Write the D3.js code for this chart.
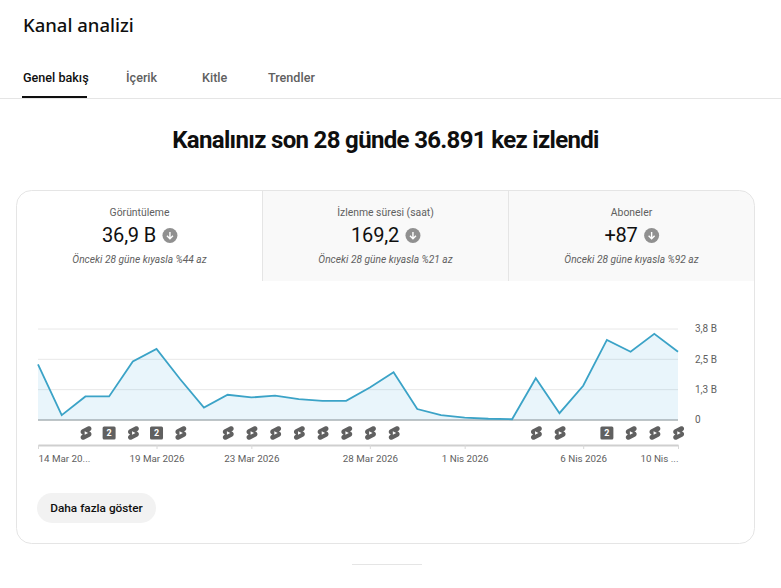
<!DOCTYPE html>
<html lang="tr">
<head>
<meta charset="utf-8">
<script src="https://cdn.jsdelivr.net/npm/d3@7"></script>
<style>
  html, body { margin: 0; padding: 0; background: #fff; }
  svg { display: block; font-family: Roboto, sans-serif; }
</style>
</head>
<body>
<div id="chart"></div>
<script>
const pageTabs = ['Genel bakış', 'İçerik', 'Kitle', 'Trendler'];
const metricTitles = ['Görüntüleme', 'İzlenme süresi (saat)', 'Aboneler'];
const metricValues = ['36,9 B', '169,2', '+87'];
const metricNotes = ['Önceki 28 güne kıyasla %44 az', 'Önceki 28 güne kıyasla %21 az', 'Önceki 28 güne kıyasla %92 az'];

const days = ['14 Mar', '15 Mar', '16 Mar', '17 Mar', '18 Mar', '19 Mar', '20 Mar', '21 Mar', '22 Mar', '23 Mar',
  '24 Mar', '25 Mar', '26 Mar', '27 Mar', '28 Mar', '29 Mar', '30 Mar', '31 Mar', '1 Nis', '2 Nis',
  '3 Nis', '4 Nis', '5 Nis', '6 Nis', '7 Nis', '8 Nis', '9 Nis', '10 Nis'];
const views = [2.27, 0.18, 0.95, 0.95, 2.39, 2.91, 1.66, 0.49, 1.02, 0.91,
  0.98, 0.84, 0.77, 0.77, 1.32, 1.95, 0.43, 0.18, 0.08, 0.03,
  0.01, 1.70, 0.26, 1.39, 3.28, 2.79, 3.53, 2.79];

const yTicks = [0, 1.25, 2.5, 3.75];
const yTickLabels = ['0', '1,3 B', '2,5 B', '3,8 B'];
const xTicks = ['14 Mar', '19 Mar', '23 Mar', '28 Mar', '1 Nis', '6 Nis', '10 Nis'];
const xTickLabels = ['14 Mar 20...', '19 Mar 2026', '23 Mar 2026', '28 Mar 2026', '1 Nis 2026', '6 Nis 2026', '10 Nis ...'];

// upload markers under the chart: day and how many videos went up
const uploadDays = ['16 Mar', '17 Mar', '18 Mar', '19 Mar', '20 Mar', '22 Mar', '23 Mar', '24 Mar', '25 Mar', '26 Mar',
  '27 Mar', '28 Mar', '29 Mar', '4 Nis', '5 Nis', '7 Nis', '8 Nis', '9 Nis', '10 Nis'];
const uploadCounts = [1, 2, 1, 2, 1, 1, 1, 1, 1, 1, 1, 1, 1, 1, 1, 2, 1, 1, 1];

const shortsPath = 'M17.77 10.32l-1.2-.5L18 9.06c1.84-.96 2.53-3.23 1.56-5.06s-3.24-2.53-5.07-1.56L6 6.94c-1.29.68-2.07 2.04-2 3.49.07 1.42.93 2.67 2.22 3.25.03.01 1.2.5 1.2.5L6 14.93c-1.83.97-2.53 3.24-1.56 5.07.97 1.83 3.24 2.53 5.07 1.56l8.5-4.5c1.29-.68 2.06-2.04 1.99-3.49-.07-1.42-.94-2.68-2.23-3.25zM10 14.65v-5.3L15 12l-5 2.65z';

const width = 781, height = 588;
const svg = d3.select('#chart').append('svg')
  .attr('width', width)
  .attr('height', height);

// page header
svg.append('text')
  .attr('x', 23).attr('y', 32)
  .attr('font-family', "'Noto Sans', sans-serif")
  .attr('font-size', 18.5)
  .attr('font-weight', 500)
  .attr('fill', '#0f0f0f')
  .text('Kanal analizi');

const tabX = [23, 126, 202, 268];
svg.selectAll('text.page-tab')
  .data(pageTabs)
  .enter().append('text')
  .attr('class', 'page-tab')
  .attr('x', (d, i) => tabX[i])
  .attr('y', 82)
  .attr('font-size', 12.6)
  .attr('font-weight', 500)
  .attr('fill', (d, i) => i === 0 ? '#0f0f0f' : '#606060')
  .text(d => d);

svg.append('rect').attr('x', 0).attr('y', 98).attr('width', width).attr('height', 1).attr('fill', '#e5e5e5');
svg.append('rect').attr('x', 22).attr('y', 96).attr('width', 65).attr('height', 2).attr('fill', '#0f0f0f');

svg.append('text')
  .attr('x', 385.5).attr('y', 148)
  .attr('text-anchor', 'middle')
  .attr('font-size', 24)
  .attr('font-weight', 700)
  .attr('letter-spacing', -0.67)
  .attr('fill', '#0f0f0f')
  .text('Kanalınız son 28 günde 36.891 kez izlendi');

// card
const card = { x: 16.5, y: 190.5, w: 738, h: 353, r: 15 };
svg.append('clipPath').attr('id', 'card-clip')
  .append('rect')
  .attr('x', card.x).attr('y', card.y)
  .attr('width', card.w).attr('height', card.h)
  .attr('rx', card.r);

const metricLeft = [16.5, 262.5, 508.5];
const metricRight = [262.5, 508.5, 754.5];
const metrics = svg.append('g');
metrics.append('g').attr('clip-path', 'url(#card-clip)')
  .selectAll('rect')
  .data(metricTitles)
  .enter().append('rect')
  .attr('x', (d, i) => metricLeft[i])
  .attr('y', card.y)
  .attr('width', (d, i) => metricRight[i] - metricLeft[i])
  .attr('height', 90.5)
  .attr('fill', (d, i) => i === 0 ? '#fff' : '#f9f9f9');

metrics.selectAll('line')
  .data([262.5, 508.5])
  .enter().append('line')
  .attr('x1', d => d).attr('x2', d => d)
  .attr('y1', card.y).attr('y2', 281)
  .attr('stroke', '#e5e5e5');

svg.append('rect')
  .attr('x', card.x).attr('y', card.y)
  .attr('width', card.w).attr('height', card.h)
  .attr('rx', card.r)
  .attr('fill', 'none')
  .attr('stroke', '#e5e5e5');

metricTitles.forEach((title, i) => {
  const cx = (metricLeft[i] + metricRight[i]) / 2;
  metrics.append('text')
    .attr('x', cx).attr('y', 216)
    .attr('text-anchor', 'middle')
    .attr('font-size', 10.4)
    .attr('fill', '#606060')
    .text(title);
  metrics.append('text')
    .attr('x', cx).attr('y', 263)
    .attr('text-anchor', 'middle')
    .attr('font-size', 10.2)
    .attr('font-style', 'italic')
    .attr('fill', '#606060')
    .text(metricNotes[i]);

  const value = metrics.append('text')
    .attr('y', 241.5)
    .attr('font-size', 20)
    .attr('letter-spacing', -0.2)
    .attr('fill', '#0f0f0f')
    .text(metricValues[i]);
  const tw = value.node().getComputedTextLength();
  const startX = cx - (tw + 21) / 2;
  value.attr('x', startX);

  // down arrow badge
  const badge = metrics.append('g')
    .attr('transform', `translate(${startX + tw + 14},235.5)`);
  badge.append('circle').attr('r', 7.5).attr('fill', '#909090');
  badge.append('path')
    .attr('d', 'M0 -3.5V3M-3 0.2L0 3.2L3 0.2')
    .attr('fill', 'none')
    .attr('stroke', '#fff')
    .attr('stroke-width', 1.4);
});

// chart
const margin = { left: 38, right: 678, top: 328.5, bottom: 419.5 };
const x = d3.scalePoint().domain(days).range([margin.left, margin.right]);
const y = d3.scaleLinear().domain([0, 3.75]).range([margin.bottom, margin.top]);

const yAxis = svg.append('g')
  .attr('transform', `translate(${margin.right},0)`)
  .call(d3.axisRight(y)
    .tickValues(yTicks)
    .tickFormat((d, i) => yTickLabels[i])
    .tickSize(margin.left - margin.right)
    .tickPadding(17));
yAxis.select('.domain').remove();
yAxis.selectAll('.tick line').attr('stroke', d => d === 0 ? '#7f8b90' : '#e8e8e8');
yAxis.selectAll('.tick text')
  .attr('font-family', 'Roboto, sans-serif')
  .attr('font-size', 10)
  .attr('fill', '#606060');

const area = d3.area()
  .x((d, i) => x(days[i]))
  .y0(y(0))
  .y1(d => y(d));
const line = d3.line()
  .x((d, i) => x(days[i]))
  .y(d => y(d));

svg.append('path')
  .datum(views)
  .attr('d', area)
  .attr('fill', '#2b9fd8')
  .attr('fill-opacity', 0.1);
svg.append('path')
  .datum(views)
  .attr('d', line)
  .attr('fill', 'none')
  .attr('stroke', '#3ba3c7')
  .attr('stroke-width', 1.8);

// upload markers
const markers = svg.selectAll('g.upload')
  .data(uploadDays)
  .enter().append('g')
  .attr('class', 'upload')
  .attr('transform', d => `translate(${x(d) + 0.5},433)`);
markers.filter((d, i) => uploadCounts[i] === 1)
  .append('path')
  .attr('d', shortsPath)
  .attr('transform', 'scale(0.68) translate(-11.8,-12)')
  .attr('fill', '#606060')
  .attr('fill-rule', 'evenodd');
const multi = markers.filter((d, i) => uploadCounts[i] > 1);
multi.append('rect')
  .attr('x', -7).attr('y', -6.5)
  .attr('width', 13).attr('height', 13)
  .attr('rx', 1.5)
  .attr('fill', '#606060');
multi.append('text')
  .attr('text-anchor', 'middle')
  .attr('x', -0.5)
  .attr('y', 3.2)
  .attr('font-size', 9)
  .attr('font-weight', 700)
  .attr('fill', '#fff')
  .text(d => uploadCounts[uploadDays.indexOf(d)]);

// time axis
const xAxis = svg.append('g')
  .attr('transform', 'translate(0,445)')
  .call(d3.axisBottom(x)
    .tickValues(xTicks)
    .tickFormat((d, i) => xTickLabels[i])
    .tickSizeInner(4)
    .tickSizeOuter(0)
    .tickPadding(6.5));
xAxis.select('.domain').attr('stroke', '#cfcfcf').attr('stroke-width', 2);
xAxis.selectAll('.tick line').attr('stroke', '#d8d8d8');
xAxis.selectAll('.tick text')
  .attr('font-family', 'Roboto, sans-serif')
  .attr('font-size', 9.8)
  .attr('fill', '#606060')
  .attr('text-anchor', (d, i) => i === 0 ? 'start' : i === xTicks.length - 1 ? 'end' : 'middle');

// button
svg.append('rect')
  .attr('x', 37).attr('y', 493)
  .attr('width', 119).attr('height', 30)
  .attr('rx', 15)
  .attr('fill', '#f2f2f2');
svg.append('text')
  .attr('x', 96.5).attr('y', 512)
  .attr('text-anchor', 'middle')
  .attr('font-size', 11.8)
  .attr('font-weight', 500)
  .attr('fill', '#0f0f0f')
  .text('Daha fazla göster');

// top edge of the next button, cut off by the window
svg.append('rect')
  .attr('x', 352).attr('y', 564)
  .attr('width', 70).attr('height', 1)
  .attr('fill', '#e5e5e5');
</script>
</body>
</html>
